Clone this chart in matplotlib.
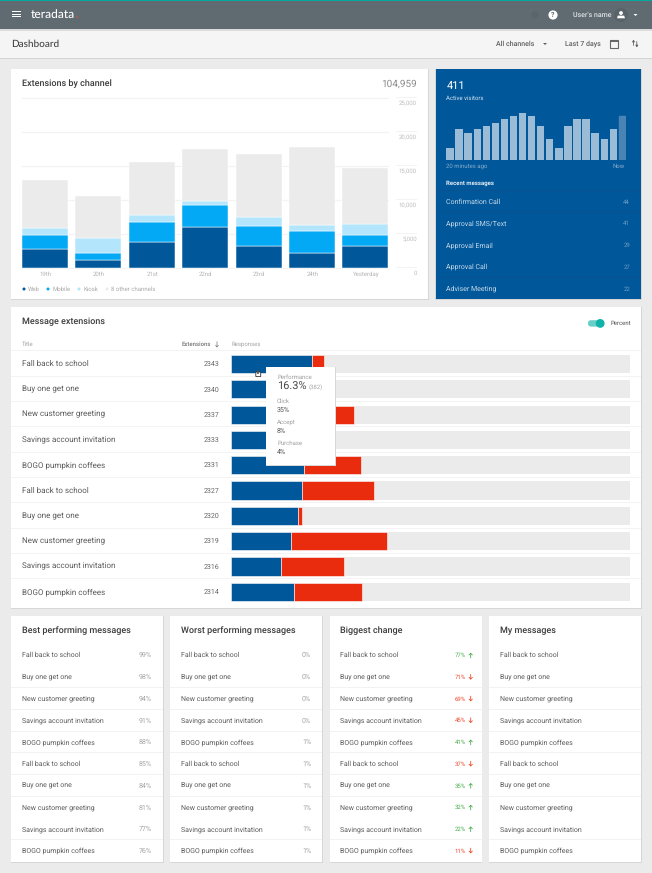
import matplotlib
matplotlib.use("Agg")
import matplotlib.pyplot as plt
from matplotlib.patches import Rectangle, Circle, Polygon, FancyBboxPatch

plt.rcParams['font.family'] = ['Roboto', 'DejaVu Sans']
plt.rcParams['text.hinting'] = 'no_hinting'
plt.rcParams['text.hinting_factor'] = 1

W, H = 652, 873

# ---- data ----
days = ['19th', '20th', '21st', '22nd', '23rd', '24th', 'Yesterday']
web = [2700, 1080, 3725, 5980, 3190, 2110, 3190]
mobile = [2100, 1080, 2945, 3240, 2990, 3230, 1610]
kiosk = [1080, 2200, 1075, 540, 1270, 880, 1570]
others = [7060, 6180, 7845, 7645, 9270, 11470, 8230]
channel_names = ['Web', 'Mobile', 'Kiosk', '8 other channels']
y_ticks = [0, 5000, 10000, 15000, 20000, 25000]

visitors = [12, 31, 27, 31, 34, 37, 41, 44, 47, 44, 34, 21, 12, 34, 41, 41, 27, 21, 31, 44]

recent_names = ['Confirmation Call', 'Approval SMS/Text', 'Approval Email', 'Approval Call', 'Adviser Meeting']
recent_counts = [44, 41, 29, 27, 22]

titles = ['Fall back to school', 'Buy one get one', 'New customer greeting',
          'Savings account invitation', 'BOGO pumpkin coffees'] * 2
extensions = [2343, 2340, 2337, 2333, 2331, 2327, 2320, 2319, 2316, 2314]
blue_pct = [20.2, 18.5, 19.5, 18.0, 18.3, 17.8, 16.6, 15.0, 12.4, 15.6]
red_pct = [3.0, 3.0, 11.3, 4.0, 14.3, 17.9, 1.2, 23.9, 15.8, 17.2]

best = [99, 98, 94, 91, 88, 85, 84, 81, 77, 76]
worst = [0, 0, 0, 0, 1, 1, 1, 1, 1, 1]
change = [77, 71, 69, 45, 41, 37, 35, 32, 22, 11]
change_up = [True, False, False, False, True, False, True, True, True, False]

# ---- colours ----
BG = '#ebebeb'
BLUE = '#00589b'
LBLUE = '#03a9f4'
PALE = '#b3e5fc'
GREY = '#ebebeb'
RED = '#e92b0e'
DARK = '#3c3c3c'
TXT = '#5a5a5a'

fig = plt.figure(figsize=(W / 100, H / 100), dpi=100, facecolor=BG)


def axes_px(x0, y0, x1, y1, z=1):
    a = fig.add_axes([x0 / W, 1 - y1 / H, (x1 - x0) / W, (y1 - y0) / H], zorder=z)
    a.patch.set_alpha(0)
    a.axis('off')
    return a


page = axes_px(0, 0, W, H, 0)
page.set_xlim(0, W)
page.set_ylim(H, 0)
top = axes_px(0, 0, W, H, 5)
top.set_xlim(0, W)
top.set_ylim(H, 0)


def rect(a, x0, y0, x1, y1, color, z=1, **k):
    a.add_patch(Rectangle((x0, y0), x1 - x0, y1 - y0, fc=color, ec='none', zorder=z, **k))


def card(a, x0, y0, x1, y1, color='white', z=1):
    rect(a, x0 - .5, y0, x1 + .5, y1 + 1.2, '#d6d6d6', z)
    rect(a, x0, y0, x1, y1, color, z + .1)


def text(a, x, y, s, size, color=TXT, ha='left', weight='normal', z=3, **k):
    return a.text(x, y + 1.4, s, fontsize=size, color=color, ha=ha, va='center', weight=weight, zorder=z, **k)


# ---- header ----
rect(page, 0, 0, W, 29, '#5f6a71')
rect(page, 0, 0, W, 1.2, '#00a99d', 2)
rect(page, 0, 29, W, 30.5, '#dcdcdc')
rect(page, 0, 30.5, W, 58, '#f5f5f5')
rect(page, 0, 58, W, 59, '#d4d4d4')
for yy in (11.8, 14.2, 16.5):
    rect(page, 12.3, yy - .5, 21, yy + .5, 'white', 2)
text(page, 31, 13, 'teradata', 8.8, 'white', weight='medium', family=['Lato', 'DejaVu Sans'])
page.add_patch(Circle((76.8, 17), .8, fc='#e8541e', ec='none', zorder=3))
text(page, 11.5, 42.5, 'Dashboard', 7.5, '#444444', family=['Lato', 'DejaVu Sans'], weight='medium')

# header right
page.add_patch(Circle((535, 15), 3.6, fc='#59646b', ec='none', zorder=3))
page.add_patch(Circle((553, 15), 4.6, fc='white', ec='none', zorder=3))
text(page, 553, 13.6, '?', 5.4, '#5f6a71', ha='center', weight='bold', z=4)
text(page, 573, 13.6, "User's name", 4.7, '#dfe3e5', weight='medium')
page.add_patch(Circle((621, 15), 7, fc='#586369', ec='none', zorder=2))
page.add_patch(Circle((621, 13), 1.9, fc='white', ec='none', zorder=3))
page.add_patch(Polygon([(617, 18.3), (617.8, 15.6), (624.2, 15.6), (625, 18.3)], fc='white', ec='none', zorder=3))
page.add_patch(Polygon([(633.5, 14), (637.5, 14), (635.5, 16)], fc='white', ec='none', zorder=3))
text(page, 496, 42.6, 'All channels', 5.3, '#5f5f5f', weight='medium')
page.add_patch(Polygon([(543, 43), (547, 43), (545, 45)], fc='#5f5f5f', ec='none', zorder=3))
text(page, 565, 42.6, 'Last 7 days', 5.3, '#5f5f5f', weight='medium')
page.add_patch(Rectangle((610, 40), 7.5, 7.5, fc='none', ec='#666666', lw=.8, zorder=3))
rect(page, 610, 39.5, 617.5, 41.8, '#666666', 3)
for xx, up in ((633.5, True), (636.8, False)):
    page.annotate('', xy=(xx, 39.5 if up else 47.5), xytext=(xx, 45.5 if up else 41.5),
                  arrowprops=dict(arrowstyle='-|>,head_width=.07,head_length=.12', lw=.6, color='#666666',
                                  shrinkA=0, shrinkB=0))

# ---- cards ----
card(page, 11, 69, 428, 299)
card(page, 435.5, 69, 641, 299, BLUE)
card(page, 11, 307, 641, 608)
for x0, x1 in ((11, 163), (170.3, 322), (330, 481.7), (489, 641)):
    card(page, x0, 616, x1, 862)

# ---- Extensions by channel ----
text(page, 22, 82.6, 'Extensions by channel', 6.7, DARK, weight='medium')
text(page, 417, 82.6, '104,959', 6.9, '#8c8c8c', ha='right')
ax = axes_px(22, 97.7, 388.4, 267.6, 1)
ax.set_xlim(-.0, 7 - .14)
ax.set_ylim(0, 25000)
for v in y_ticks:
    ax.axhline(v, color='#f3f3f3', lw=.9, zorder=0, clip_on=False)
    page_y = 267.6 - v / 25000 * 169.9
    rect(page, 396, page_y - .4, 417, page_y + .4, '#f3f3f3', 2)
    text(page, 417, page_y + 4.2, f'{v:,}', 4.1, '#bdbdbd', ha='right')
xs = [i + .43 for i in range(7)]
bottom = [0] * 7
for vals, c in zip((web, mobile, kiosk, others), (BLUE, LBLUE, PALE, GREY)):
    ax.bar(xs, vals, .86, bottom=bottom, color=c, ec='white', lw=.35, zorder=2)
    bottom = [b + v for b, v in zip(bottom, vals)]
for i, d in enumerate(days):
    text(page, 45.5 + i * 53.4, 272.8, d, 4.1, '#b5b5b5', ha='center')
lx = [24, 48, 79, 107]
for x, n, c in zip(lx, channel_names, (BLUE, LBLUE, PALE, GREY)):
    page.add_patch(Circle((x, 289), 1.5, fc=c, ec='none', zorder=3))
    text(page, x + 4.3, 287.6, n, 4.1, '#aaaaaa')

# ---- Active visitors ----
text(page, 446.5, 84.5, '411', 7.8, 'white')
text(page, 446.5, 96.4, 'Active visitors', 4.5, '#d5e3ef')
av = axes_px(446.3, 112, 626, 159.5, 2)
av.set_xlim(-.0, 20 - .19)
av.set_ylim(0, 47.5)
avx = [i + .405 for i in range(20)]
bars = av.bar(avx, visitors, .81, color='#9bbcd7', zorder=2)
bars[-1].set_color('#4a84b5')
text(page, 446.5, 165, '20 minutes ago', 4.0, '#85aaca')
text(page, 625, 165, 'Now', 4.0, '#85aaca', ha='right')
text(page, 446.5, 182, 'Recent messages', 4.5, '#e6eef5', weight='bold')
for i, (n, c) in enumerate(zip(recent_names, recent_counts)):
    y = 200.5 + i * 21.7
    rect(page, 436, y - 10.1, 641, y - 9.7, '#0a5191', 2)
    text(page, 446.5, y, n, 4.7, '#c6d8e8')
    text(page, 630, y + .2, str(c), 4.1, '#6f9cc3', ha='right')

# ---- Message extensions ----
text(page, 22, 320.3, 'Message extensions', 6.7, DARK, weight='medium')
text(page, 631, 322, 'Percent', 4.6, '#555555', ha='right')
page.add_patch(FancyBboxPatch((588, 320.2), 15.5, 6.4, boxstyle='round,pad=0,rounding_size=3.2', fc='#66d0c8', ec='none', zorder=3))
page.add_patch(Circle((600.2, 323.4), 4.4, fc='#0fb3aa', ec='none', zorder=4))
text(page, 22, 343, 'Title', 4.1, '#a5a5a5')
text(page, 211, 343, 'Extensions', 4.1, '#777777', ha='right', weight='medium')
page.annotate('', xy=(217, 347.5), xytext=(217, 341.7),
              arrowprops=dict(arrowstyle='->,head_width=.1,head_length=.12', lw=.5, color='#777777',
                              shrinkA=0, shrinkB=0))
text(page, 231.5, 343, 'Responses', 4.1, '#a5a5a5')

ROW0, STEP = 364.0, 25.33
for i, (ti, e) in enumerate(zip(titles, extensions)):
    y = ROW0 + i * STEP
    rect(page, 11, y - 13.6, 641, y - 12.6, '#f3f3f3', 2)
    text(page, 22, y - 1.4, ti, 5.5, TXT)
    text(page, 219.5, y - 1.2, str(e), 5, '#666666', ha='right')

bx = axes_px(231.3, ROW0 - 13.6, 630.3, ROW0 + 9 * STEP + 13.6 - 0.1, 2)
bx.set_xlim(0, 100)
bx.set_ylim(9.54, -.54)
rows = list(range(10))
bx.barh(rows, [100] * 10, .72, color=GREY, zorder=1)
bx.barh(rows, blue_pct, .72, color=BLUE, ec='white', lw=.4, zorder=2)
bx.barh(rows, red_pct, .72, left=blue_pct, color=RED, ec='white', lw=.4, zorder=2)

# tooltip
rect(top, 265.7, 367, 335.7, 465.8, '#d8d8d8', 1)
rect(top, 266.3, 367, 335, 464.5, 'white', 2)
text(top, 277, 375.7, 'Performance', 4.1, '#a0a0a0')
text(top, 277, 385.9, '16.3%', 8.1, '#4a4a4a')
text(top, 308.3, 386.9, '(382)', 4.4, '#a8a8a8')
for y0, lab, val in ((400.3, 'Click', '35%'), (421.1, 'Accept', '8%'), (441.9, 'Purchase', '4%')):
    text(top, 277, y0, lab, 4.1, '#a0a0a0')
    text(top, 277, y0 + 8.4, val, 5.4, '#555555')
# hand cursor
top.add_patch(FancyBboxPatch((256.3, 372.5), 3.9, 3.6, boxstyle='round,pad=.5', fc='white', ec='#333333', lw=.6, zorder=3))
top.add_patch(Rectangle((256.5, 369.5), 1.3, 3.4, fc='white', ec='#333333', lw=.5, zorder=4))

# ---- bottom lists ----
panels = [
    (22, 152, 'Best performing messages', [f'{v}%' for v in best]),
    (181, 311, 'Worst performing messages', [f'{v}%' for v in worst]),
    (340.3, 0, 'Biggest change', [f'{v}%' for v in change]),
    (499.7, None, 'My messages', None),
]
card_bounds = [(11, 163), (170.3, 322), (330, 481.7), (489, 641)]
for (tx, rx, head, vals), (c0, c1) in zip(panels, card_bounds):
    text(page, tx, 629.3, head, 6.7, DARK, weight='medium')
    for i, ti in enumerate(titles):
        y = 654.1 + i * 21.72
        if i:
            rect(page, c0, y - 10.3, c1, y - 9.4, '#f2f2f2', 2)
        text(page, tx, y, ti, 4.75, '#5c5c5c')
        if vals is None:
            continue
        if rx:
            text(page, rx, y, vals[i], 4.75, '#a5a5a5', ha='right')
        else:
            col = '#4caf50' if change_up[i] else '#f0492e'
            text(page, 465.5, y, vals[i], 4.4, col, ha='right')
            yc = y + 1.2
            y0, y1 = (yc + 2.6, yc - 2.6) if change_up[i] else (yc - 2.6, yc + 2.6)
            page.annotate('', xy=(470.7, y1), xytext=(470.7, y0),
                          arrowprops=dict(arrowstyle='->,head_width=.12,head_length=.12', lw=.6, color=col,
                                          shrinkA=0, shrinkB=0), zorder=3)

fig.savefig('out.png', dpi=100, facecolor=BG)
